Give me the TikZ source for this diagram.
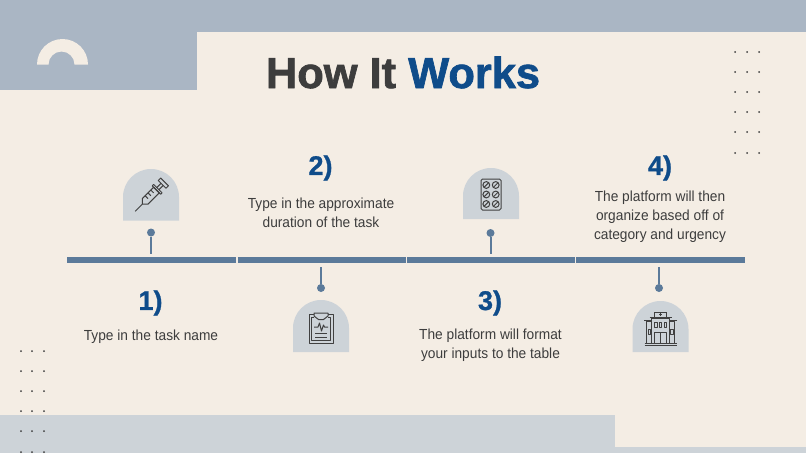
\documentclass[tikz,border=0pt]{standalone}
\usepackage{fontspec}
\setmainfont{Liberation Sans}[FakeStretch=0.94]
\newfontfamily\titlefont{Liberation Sans}[BoldFeatures={FakeBold=1.6}]
\newfontfamily\numfont{Liberation Sans}[BoldFeatures={FakeBold=1.0}]
\definecolor{paper}{HTML}{F4EDE4}
\definecolor{steel}{HTML}{AAB6C4}
\definecolor{mist}{HTML}{CDD3D8}
\definecolor{navy}{HTML}{0F4C8A}
\definecolor{ink}{HTML}{3D3D3D}
\definecolor{barblue}{HTML}{5B7A9A}
\definecolor{icon}{HTML}{404040}
\tikzset{
  x=1pt,y=-1pt,
  bar/.style={draw=barblue,line width=5.5pt},
  pinline/.style={draw=barblue,line width=2pt},
  pindot/.style={circle,fill=barblue,minimum size=8pt,inner sep=0pt},
  badge/.style={fill=mist},
  ic/.style={draw=icon,line width=1pt,line join=round},
  numlabel/.style={text=navy,font=\fontsize{27}{29}\selectfont\numfont\bfseries,inner sep=0pt},
  body/.style={text=ink,font=\fontsize{14.6}{19}\selectfont,align=center,inner sep=0pt},
  gridot/.style={fill=ink},
}
\newcommand{\archbadge}[3]{\fill[badge] (#1-28,#2+#3) -- (#1-28,#2) arc (180:360:28) -- (#1+28,#2+#3) -- cycle;}
\begin{document}
\begin{tikzpicture}
\useasboundingbox (0,0) rectangle (806,453);
\fill[paper] (0,0) rectangle (806,453);
\fill[steel] (0,0) rectangle (806,32);
\fill[steel] (0,0) rectangle (197,90);
\fill[mist] (0,415) rectangle (615,453);
\fill[mist] (615,447) rectangle (806,453);
% arch
\fill[paper] (37,64.5) arc (180:360:25.5) -- (74.5,64.5) arc (360:180:13) -- cycle;
% dot grids
\foreach \px in {735,747,759} \foreach \py in {52,72,92,112,132,153} \fill[gridot] (\px,\py) circle[radius=1pt];
\foreach \px in {21,32,44} \foreach \py in {351,371,391,411,431,452} \fill[gridot] (\px,\py) circle[radius=1pt];
% title
\node[inner sep=0pt,font=\fontsize{43.4}{46}\selectfont\titlefont\bfseries,text=ink] (title) at (403,72.5) {How It \textcolor{navy}{Works}};
% timeline
\coordinate (b0) at (67,260); \coordinate (b1) at (236,260);
\coordinate (b2) at (237.5,260); \coordinate (b3) at (406,260);
\coordinate (b4) at (407,260); \coordinate (b5) at (575,260);
\coordinate (b6) at (576,260); \coordinate (b7) at (745,260);
\draw[bar] (b0) -- (b1);
\draw[bar] (b2) -- (b3);
\draw[bar] (b4) -- (b5);
\draw[bar] (b6) -- (b7);
% pins
\node[pindot] (p1) at (151,232.5) {};
\node[pindot] (p2) at (321,288) {};
\node[pindot] (p3) at (490.5,233) {};
\node[pindot] (p4) at (659,288) {};
\coordinate (q1) at (151,254); \coordinate (q2) at (321,267);
\coordinate (q3) at (490.5,254); \coordinate (q4) at (659,267);
\draw[pinline] (p1) -- (q1);
\draw[pinline] (p2) -- (q2);
\draw[pinline] (p3) -- (q3);
\draw[pinline] (p4) -- (q4);
% badges
\archbadge{151}{197}{23.5}
\archbadge{321}{328}{24}
\archbadge{491}{196}{23}
\archbadge{660.5}{329}{23}
% syringe
\begin{scope}[shift={(151.5,195)},rotate=45,ic]
\draw (-23,0) -- (-13,0);
\draw (-13,0) -- (-9,-4) -- (7,-4) -- (7,4) -- (-9,4) -- cycle;
\draw (-5,-4) -- (-5,0) (-1,-4) -- (-1,0) (3,-4) -- (3,0);
\draw (7,-6) -- (7,6) (7,-6) -- (9,-6) -- (9,6) -- (7,6);
\draw (9,-1.5) -- (15,-1.5) (9,1.5) -- (15,1.5);
\draw (15,-5.5) -- (15,5.5) -- (18.5,5.5) -- (18.5,-5.5) -- cycle;
\end{scope}
% clipboard
\begin{scope}[shift={(321,328)},ic]
\draw (-7,-14) -- (-12,-14) -- (-12,15) -- (12,15) -- (12,-14) -- (7,-14);
\draw (-9.5,-11) -- (-9.5,12.5) -- (9.5,12.5) -- (9.5,-11) -- (7,-11);
\draw (-9.5,-11) -- (-7,-11);
\draw (-7,-15) -- (7,-15) -- (7,-12) -- (2.5,-8.5) -- (-2.5,-8.5) -- (-7,-12) -- cycle;
\draw (-7,-1) -- (-3,-1) -- (-1.5,-5) -- (0.5,3) -- (2.5,-3) -- (3.5,-1) -- (7,-1);
\draw (-6,5.5) -- (6,5.5) (-6,9) -- (6,9);
\end{scope}
% pills
\begin{scope}[shift={(491,194.5)},ic]
\draw[rounded corners=1.5pt] (-10,-15.5) rectangle (10,15.5);
\foreach \py in {-9.5,0,9.5} \foreach \px in {-4.7,4.7} {
  \draw (\px,\py) circle[radius=3.4];
  \draw (\px-2.2,\py+2.2) -- (\px+2.2,\py-2.2);
}
\end{scope}
% hospital
\begin{scope}[shift={(660.5,329)},ic]
\draw (-16,16) -- (16,16);
\draw (-16,14) -- (16,14);
\draw (-14,14) -- (-14,-8) -- (-9,-8) (14,14) -- (14,-8) -- (9,-8);
\draw (-16.5,-9) -- (-9,-9) (16.5,-9) -- (9,-9);
\draw (-9,14) -- (-9,-11) -- (9,-11) -- (9,14);
\draw (-11,-12) -- (11,-12);
\draw (-6,-17) -- (-6,-12) (6,-12) -- (6,-17) (-6,-17) -- (6,-17);
\draw (0,-16) -- (0,-13) (-1.5,-14.5) -- (1.5,-14.5);
\draw (-6,-7) rectangle (-3.5,-2) (-1.2,-7) rectangle (1.2,-2) (3.5,-7) rectangle (6,-2);
\draw (-6,14) -- (-6,3) -- (6,3) -- (6,14) (0,3) -- (0,14);
\draw (-12.5,0) rectangle (-10,5) (10,0) rectangle (12.5,5);
\end{scope}
% labels
\node[numlabel] (n1) at (150.5,303) {1)};
\node[numlabel] (n2) at (320.5,168) {2)};
\node[numlabel] (n3) at (490,303) {3)};
\node[numlabel] (n4) at (660,168) {4)};
\node[body] (t1) at (151,337) {Type in the task name};
\node[body] (t2) at (321,212.5) {Type in the approximate\\duration of the task};
\node[body] (t3) at (490.5,345) {The platform will format\\your inputs to the table};
\node[body] (t4) at (660,217) {The platform will then\\organize based off of\\category and urgency};
\end{tikzpicture}
\end{document}
